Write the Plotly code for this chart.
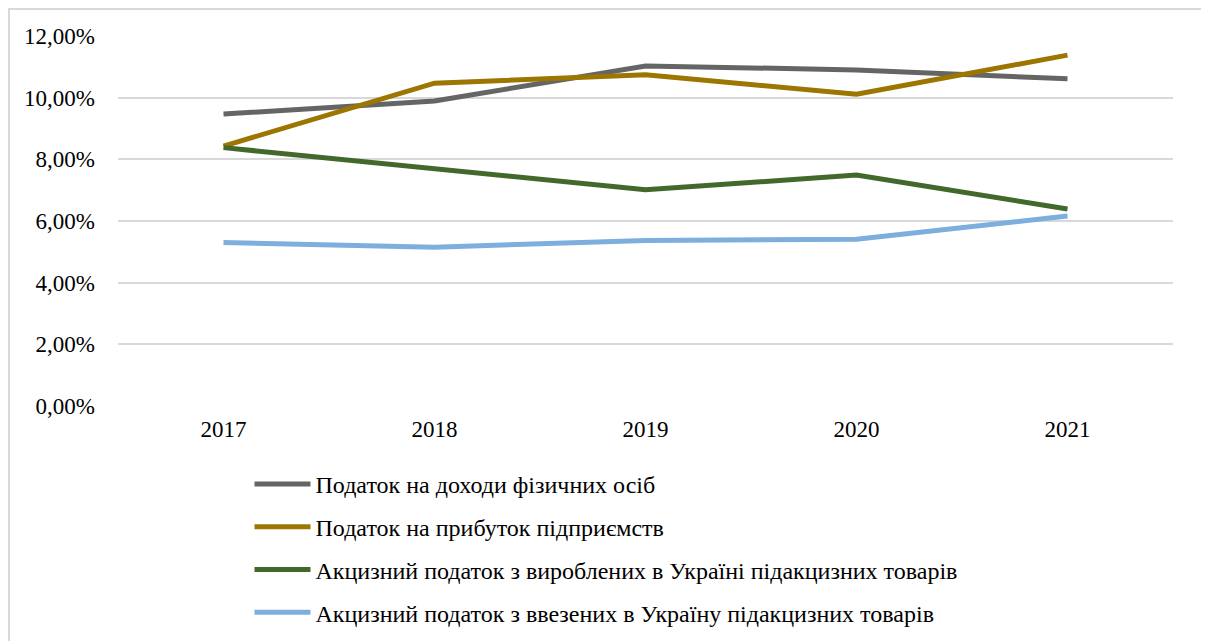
import plotly.graph_objects as go

years = ["2017", "2018", "2019", "2020", "2021"]

series_names = [
    "Податок на доходи фізичних осіб",
    "Податок на прибуток підприємств",
    "Акцизний податок з вироблених в Україні підакцизних товарів",
    "Акцизний податок з ввезених в Україну підакцизних товарів",
]

pdfo = [9.47, 9.89, 11.03, 10.90, 10.61]
profit_tax = [8.43, 10.47, 10.74, 10.11, 11.38]
excise_domestic = [8.38, 7.68, 7.01, 7.49, 6.39]
excise_import = [5.30, 5.15, 5.37, 5.41, 6.16]

colors = ["#656565", "#9C7600", "#43682B", "#7CAFDD"]

values = [pdfo, profit_tax, excise_domestic, excise_import]

FONT = "Liberation Serif"

L, R, T, B = 110, 44, 28, 243
PW = 1209 - L - R
PH = 641 - T - B

fig = go.Figure()
for i, (name, vals) in enumerate(zip(series_names, values)):
    fig.add_trace(go.Scatter(
        x=years, y=vals, name=name, mode="lines",
        line=dict(color=colors[i], width=5),
        legendgroup=f"g{i}",
    ))

fig.update_layout(
    width=1209, height=641,
    margin=dict(l=L, r=R, t=T, b=B, autoexpand=False),
    plot_bgcolor="white", paper_bgcolor="white",
    font=dict(family=FONT, size=23, color="#000000"),
    separators=",.",
    showlegend=True,
    legend=dict(
        x=(241.5 - L) / PW, y=-(454 - (T + PH)) / PH,
        xanchor="left", yanchor="top",
        orientation="v", tracegroupgap=8.5,
        font=dict(family=FONT, size=24, color="#000000"),
        itemwidth=56, bgcolor="rgba(0,0,0,0)",
    ),
    xaxis=dict(
        type="category", range=[-0.5, 4.5],
        showgrid=False, showline=False, zeroline=False,
        ticks="", tickfont=dict(family=FONT, size=23, color="#000000"),
        ticklabelstandoff=7,
    ),
    yaxis=dict(
        range=[0, 12], dtick=2, tick0=0,
        tickformat=".2f", ticksuffix="%",
        showgrid=True, gridcolor="#D9D9D9", gridwidth=2,
        zeroline=False, showline=False, ticks="",
        tickfont=dict(family=FONT, size=23, color="#000000"),
        ticklabelstandoff=22,
    ),
    shapes=[dict(
        type="rect", xref="paper", yref="paper",
        x0=(1 - L) / PW, x1=(1194 - L) / PW,
        y0=-(660 - (T + PH)) / PH, y1=(T + PH - 1) / PH,
        line=dict(color="#D9D9D9", width=2), layer="below",
    )],
)

fig.write_html("out.html")
